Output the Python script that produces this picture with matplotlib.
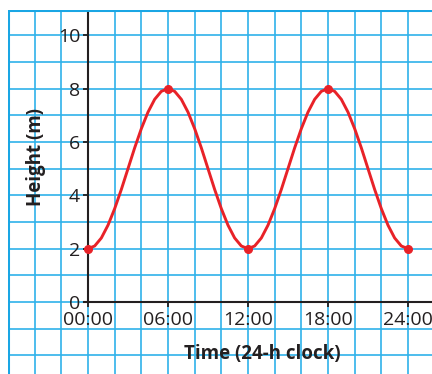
import matplotlib
matplotlib.use('Agg')
import matplotlib.pyplot as plt

plt.rcParams['font.family'] = ['Open Sans', 'DejaVu Sans']

# heights every half hour, 00:00 .. 24:00
hours = [i * 0.5 for i in range(49)]
rise = [2.00, 2.10, 2.40, 2.88, 3.50, 4.22, 5.00, 5.78, 6.50, 7.12, 7.60, 7.90]
fall = [8.00, 7.90, 7.60, 7.12, 6.50, 5.78, 5.00, 4.22, 3.50, 2.88, 2.40, 2.10]
height = rise + fall + rise + fall + [2.00]
pt_hours = [0, 6, 12, 18, 24]
pt_height = [2, 8, 2, 8, 2]
xtick_labels = ['00:00', '06:00', '12:00', '18:00', '24:00']
yticks = [0, 2, 4, 6, 8, 10]

W, H = 432, 374
fig = plt.figure(figsize=(W / 100, H / 100), dpi=100)
# axes covers the grid paper: left 8px, top 10px, to the right/bottom edges
ax = fig.add_axes([8 / W, 0, 1 - 8 / W, 1 - 10 / H])

xmin, xmax = -6, (W - 88) / 13.333
ymin, ymax = -(H - 302) / 26.667, 10.95
ax.set_xlim(xmin, xmax)
ax.set_ylim(ymin, ymax)

blue = '#2fb2ea'
for gx in range(-6, 27, 2):
    ax.axvline(gx, color=blue, lw=1.2, zorder=0)
for gy in range(-3, 11):
    ax.axhline(gy, color=blue, lw=1.2, zorder=0)
ax.axvline(-6, color='#1aa6e4', lw=2.2, zorder=0)
ax.axhline(ymax, color='#1aa6e4', lw=2.2, zorder=0)

for s in ['top', 'right']:
    ax.spines[s].set_visible(False)
ax.spines['left'].set_position(('data', 0))
ax.spines['bottom'].set_position(('data', 0))
ax.spines['left'].set_bounds(0, 10.85)
ax.spines['bottom'].set_bounds(-0.3, xmax)
for s in ['left', 'bottom']:
    ax.spines[s].set_color('#231f20')
    ax.spines[s].set_linewidth(1.5)

ax.set_xticks(pt_hours)
ax.set_xticklabels(xtick_labels)
ax.set_yticks(yticks)
ax.tick_params(direction='out', length=3.6, width=1.3, color='#231f20',
               labelsize=14, labelcolor='#231f20', pad=2)
ax.tick_params(axis='x', pad=3)

ax.plot(hours, height, color='#e82228', lw=2.1, zorder=3,
        solid_joinstyle='round', solid_capstyle='round')
ax.plot(pt_hours, pt_height, 'o', color='#e82228', ms=5.5, zorder=4)

fig.text(262 / W, 1 - 354 / H, 'Time (24-h clock)', ha='center', va='center',
         fontsize=13.5, fontweight='bold', color='#231f20')
fig.text(36 / W, 1 - 157 / H, 'Height (m)', ha='center', va='center',
         rotation=90, fontsize=13.5, fontweight='bold', color='#231f20')

fig.savefig('out.png', dpi=100)
